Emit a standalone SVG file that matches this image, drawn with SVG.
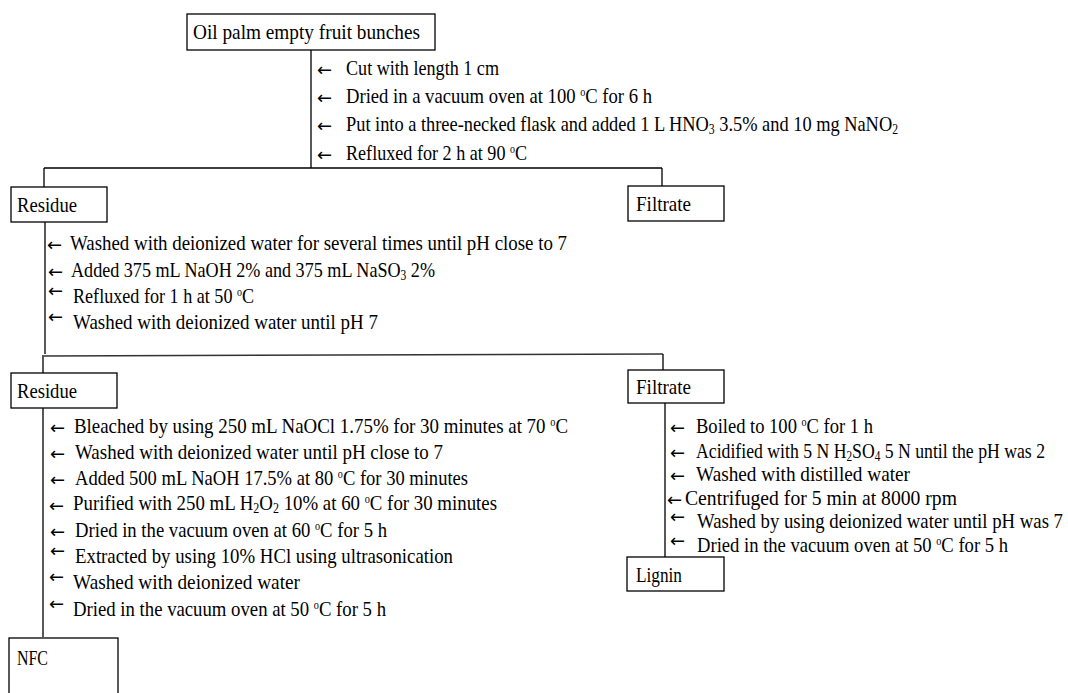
<svg xmlns="http://www.w3.org/2000/svg" width="1068" height="693" viewBox="0 0 1068 693">
<style>
.bg{fill:#fff}
.box{fill:#fff;stroke:#000;stroke-width:1.3}
.ln{fill:none;stroke:#000;stroke-width:1.3}
.ln2{fill:none;stroke:#333;stroke-width:1.6}
text{font-family:"Liberation Serif","DejaVu Serif",serif;font-size:22px;fill:#000}
text.ar{font-family:"DejaVu Sans",sans-serif;font-size:18px}
.sb{font-size:14px}
.sp{font-size:12px}
</style>
<rect class="bg" x="0" y="0" width="1068" height="693"/>
<g id="connectors">
<path class="ln" d="M311,50V168M44,168H662M44,168V187M662,168V186M45,222V354"/>
<path class="ln2" d="M44,356L663,354"/>
<path class="ln" d="M43,355V373M663,354V370M43,408V637M665,403V557"/>
</g>
<g id="n-oil">
<rect class="box" x="187" y="14" width="248" height="36"/>
<text x="193" y="39" textLength="227" lengthAdjust="spacingAndGlyphs">Oil palm empty fruit bunches</text>
</g>
<g id="steps-1">
<text class="ar" x="317" y="76">←</text>
<text x="346" y="75" textLength="153" lengthAdjust="spacingAndGlyphs">Cut with length 1 cm</text>
<text class="ar" x="317" y="104">←</text>
<text x="346" y="103" textLength="306" lengthAdjust="spacingAndGlyphs">Dried in a vacuum oven at 100 <tspan class="sp" baseline-shift="7">o</tspan>C for 6 h</text>
<text class="ar" x="317" y="132">←</text>
<text x="346" y="131" textLength="552" lengthAdjust="spacingAndGlyphs">Put into a three-necked flask and added 1 L HNO<tspan class="sb" baseline-shift="-3">3</tspan> 3.5% and 10 mg NaNO<tspan class="sb" baseline-shift="-3">2</tspan></text>
<text class="ar" x="317" y="161">←</text>
<text x="346" y="160" textLength="181" lengthAdjust="spacingAndGlyphs">Refluxed for 2 h at 90 <tspan class="sp" baseline-shift="7">o</tspan>C</text>
</g>
<g id="n-residue1">
<rect class="box" x="11" y="187" width="96" height="35"/>
<text x="17" y="212" textLength="60" lengthAdjust="spacingAndGlyphs">Residue</text>
</g>
<g id="n-filtrate1">
<rect class="box" x="628" y="186" width="96" height="35"/>
<text x="636" y="211" textLength="55" lengthAdjust="spacingAndGlyphs">Filtrate</text>
</g>
<g id="steps-2">
<text class="ar" x="47" y="251">←</text>
<text x="70" y="250" textLength="497" lengthAdjust="spacingAndGlyphs">Washed with deionized water for several times until pH close to 7</text>
<text class="ar" x="48" y="278">←</text>
<text x="71" y="277" textLength="364" lengthAdjust="spacingAndGlyphs">Added 375 mL NaOH 2% and 375 mL NaSO<tspan class="sb" baseline-shift="-3">3</tspan> 2%</text>
<text class="ar" x="48" y="297">←</text>
<text x="73" y="303" textLength="181" lengthAdjust="spacingAndGlyphs">Refluxed for 1 h at 50 <tspan class="sp" baseline-shift="7">o</tspan>C</text>
<text class="ar" x="48" y="323">←</text>
<text x="73" y="329" textLength="305" lengthAdjust="spacingAndGlyphs">Washed with deionized water until pH 7</text>
</g>
<g id="n-residue2">
<rect class="box" x="11" y="373" width="106" height="35"/>
<text x="17" y="398" textLength="60" lengthAdjust="spacingAndGlyphs">Residue</text>
</g>
<g id="n-filtrate2">
<rect class="box" x="628" y="370" width="96" height="33"/>
<text x="636" y="394" textLength="55" lengthAdjust="spacingAndGlyphs">Filtrate</text>
</g>
<g id="steps-3">
<text class="ar" x="50" y="434">←</text>
<text x="74" y="433" textLength="494" lengthAdjust="spacingAndGlyphs">Bleached by using 250 mL NaOCl 1.75% for 30 minutes at 70 <tspan class="sp" baseline-shift="7">o</tspan>C</text>
<text class="ar" x="50" y="460">←</text>
<text x="75" y="459" textLength="368" lengthAdjust="spacingAndGlyphs">Washed with deionized water until pH close to 7</text>
<text class="ar" x="50" y="486">←</text>
<text x="75" y="485" textLength="393" lengthAdjust="spacingAndGlyphs">Added 500 mL NaOH 17.5% at 80 <tspan class="sp" baseline-shift="7">o</tspan>C for 30 minutes</text>
<text class="ar" x="49" y="512">←</text>
<text x="73" y="510" textLength="424" lengthAdjust="spacingAndGlyphs">Purified with 250 mL H<tspan class="sb" baseline-shift="-3">2</tspan>O<tspan class="sb" baseline-shift="-3">2</tspan> 10% at 60 <tspan class="sp" baseline-shift="7">o</tspan>C for 30 minutes</text>
<text class="ar" x="50" y="538">←</text>
<text x="75" y="537" textLength="312" lengthAdjust="spacingAndGlyphs">Dried in the vacuum oven at 60 <tspan class="sp" baseline-shift="7">o</tspan>C for 5 h</text>
<text class="ar" x="50" y="557">←</text>
<text x="75" y="563" textLength="378" lengthAdjust="spacingAndGlyphs">Extracted by using 10% HCl using ultrasonication</text>
<text class="ar" x="49" y="583">←</text>
<text x="73" y="589" textLength="227" lengthAdjust="spacingAndGlyphs">Washed with deionized water</text>
<text class="ar" x="49" y="610">←</text>
<text x="73" y="616" textLength="313" lengthAdjust="spacingAndGlyphs">Dried in the vacuum oven at 50 <tspan class="sp" baseline-shift="7">o</tspan>C for 5 h</text>
</g>
<g id="n-nfc">
<rect class="box" x="9" y="638" width="109" height="60"/>
<text x="17" y="665" textLength="31" lengthAdjust="spacingAndGlyphs">NFC</text>
</g>
<g id="steps-4">
<text class="ar" x="670" y="434">←</text>
<text x="696" y="433" textLength="177" lengthAdjust="spacingAndGlyphs">Boiled to 100 <tspan class="sp" baseline-shift="7">o</tspan>C for 1 h</text>
<text class="ar" x="670" y="459">←</text>
<text x="696" y="458" textLength="349" lengthAdjust="spacingAndGlyphs">Acidified with 5 N H<tspan class="sb" baseline-shift="-3">2</tspan>SO<tspan class="sb" baseline-shift="-3">4</tspan> 5 N until the pH was 2</text>
<text class="ar" x="670" y="482">←</text>
<text x="696" y="481" textLength="214" lengthAdjust="spacingAndGlyphs">Washed with distilled water</text>
<text class="ar" x="667" y="506">←</text>
<text x="685" y="505" textLength="272" lengthAdjust="spacingAndGlyphs">Centrifuged for 5 min at 8000 rpm</text>
<text class="ar" x="670" y="523">←</text>
<text x="697" y="528" textLength="366" lengthAdjust="spacingAndGlyphs">Washed by using deionized water until pH was 7</text>
<text class="ar" x="670" y="547">←</text>
<text x="697" y="552" textLength="311" lengthAdjust="spacingAndGlyphs">Dried in the vacuum oven at 50 <tspan class="sp" baseline-shift="7">o</tspan>C for 5 h</text>
</g>
<g id="n-lignin">
<rect class="box" x="627" y="557" width="97" height="34"/>
<text x="636" y="582" textLength="46" lengthAdjust="spacingAndGlyphs">Lignin</text>
</g>
</svg>
